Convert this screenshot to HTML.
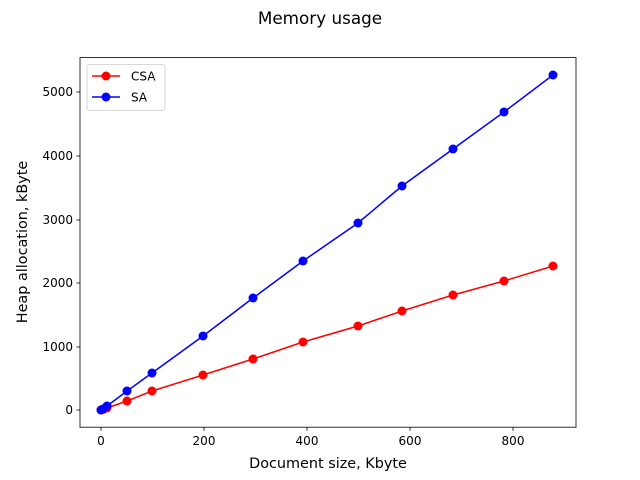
<!DOCTYPE html>
<html><head><meta charset="utf-8"><style>body{margin:0;background:#fff}svg{display:block}text{font-family:"DejaVu Sans","Liberation Sans",sans-serif;fill:#000}</style></head>
<body>
<svg width="640" height="480" viewBox="0 0 640 480" xmlns="http://www.w3.org/2000/svg">
<rect width="640" height="480" fill="#fff"/>
<text x="320" y="24" font-size="16.8" text-anchor="middle">Memory usage</text>
<rect x="80" y="57.6" width="496" height="369.6" fill="none" stroke="#000" stroke-width="0.8"/>
<g stroke="#000" stroke-width="0.8">
<line x1="101" y1="427.2" x2="101" y2="430.7"/><line x1="204" y1="427.2" x2="204" y2="430.7"/><line x1="307" y1="427.2" x2="307" y2="430.7"/><line x1="410" y1="427.2" x2="410" y2="430.7"/><line x1="513" y1="427.2" x2="513" y2="430.7"/>
<line x1="76.5" y1="410" x2="80" y2="410"/><line x1="76.5" y1="347" x2="80" y2="347"/><line x1="76.5" y1="283" x2="80" y2="283"/><line x1="76.5" y1="220" x2="80" y2="220"/><line x1="76.5" y1="156" x2="80" y2="156"/><line x1="76.5" y1="92" x2="80" y2="92"/>
</g>
<g font-size="12" text-anchor="middle">
<text x="101" y="445">0</text><text x="204" y="445">200</text><text x="307" y="445">400</text><text x="410" y="445">600</text><text x="513" y="445">800</text>
</g>
<g font-size="12" text-anchor="end">
<text x="73" y="414">0</text><text x="73" y="351">1000</text><text x="73" y="287">2000</text><text x="73" y="224">3000</text><text x="73" y="160">4000</text><text x="73" y="96">5000</text>
</g>
<text x="328" y="468" font-size="14.4" text-anchor="middle">Document size, Kbyte</text>
<text transform="translate(27,242) rotate(-90)" font-size="14.4" text-anchor="middle">Heap allocation, kByte</text>
<polyline fill="none" stroke="#f00" stroke-width="1.5" points="101,410 103,409.5 107,408 127,401 152,391 203,375 253,359 303,342 358,326 402,311 453,295 504,281 553,266"/>
<g fill="#f00"><circle cx="101" cy="410" r="4.5"/><circle cx="103" cy="409.5" r="4.5"/><circle cx="107" cy="408" r="4.5"/><circle cx="127" cy="401" r="4.5"/><circle cx="152" cy="391" r="4.5"/><circle cx="203" cy="375" r="4.5"/><circle cx="253" cy="359" r="4.5"/><circle cx="303" cy="342" r="4.5"/><circle cx="358" cy="326" r="4.5"/><circle cx="402" cy="311" r="4.5"/><circle cx="453" cy="295" r="4.5"/><circle cx="504" cy="281" r="4.5"/><circle cx="553" cy="266" r="4.5"/></g>
<polyline fill="none" stroke="#00f" stroke-width="1.5" points="101,410 103,409 107,406 127,391 152,373 203,336 253,298 303,261 358,223 402,186 453,149 504,112 553,75"/>
<g fill="#00f"><circle cx="101" cy="410" r="4.5"/><circle cx="103" cy="409" r="4.5"/><circle cx="107" cy="406" r="4.5"/><circle cx="127" cy="391" r="4.5"/><circle cx="152" cy="373" r="4.5"/><circle cx="203" cy="336" r="4.5"/><circle cx="253" cy="298" r="4.5"/><circle cx="303" cy="261" r="4.5"/><circle cx="358" cy="223" r="4.5"/><circle cx="402" cy="186" r="4.5"/><circle cx="453" cy="149" r="4.5"/><circle cx="504" cy="112" r="4.5"/><circle cx="553" cy="75" r="4.5"/></g>
<rect x="87" y="64.5" width="78" height="46" rx="3" fill="#fff" fill-opacity="0.8" stroke="#ccc" stroke-width="0.8"/>
<line x1="92" y1="76" x2="120" y2="76" stroke="#f00" stroke-width="1.5"/><circle cx="106" cy="76" r="4.5" fill="#f00"/>
<text x="131" y="80.5" font-size="12">CSA</text>
<line x1="92" y1="97" x2="120" y2="97" stroke="#00f" stroke-width="1.5"/><circle cx="106" cy="97" r="4.5" fill="#00f"/>
<text x="131" y="101.5" font-size="12">SA</text>
</svg>
</body></html>
